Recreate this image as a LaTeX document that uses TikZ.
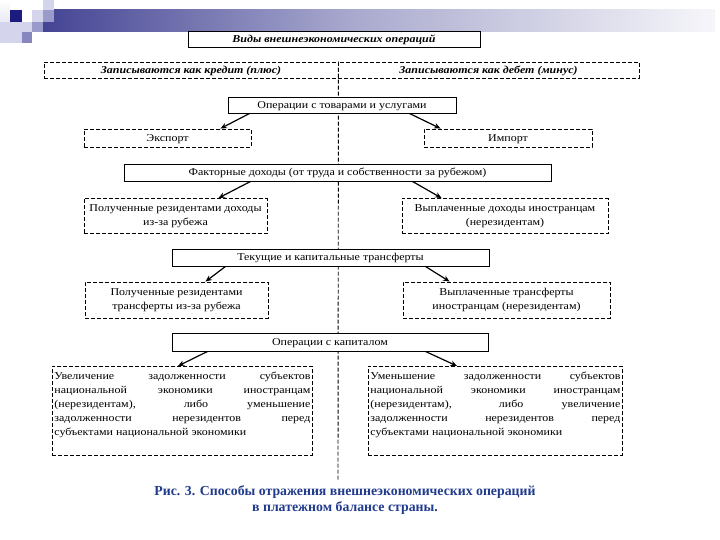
\documentclass[tikz,border=0pt]{standalone}
\usepackage{fontspec}
\setmainfont[FakeStretch=1.14]{Liberation Serif}
\newfontfamily\captionfont{Liberation Serif}
\usetikzlibrary{arrows.meta}
\definecolor{slideNavy}{HTML}{1C1C7E}
\definecolor{slideLilac}{HTML}{9A9ACB}
\definecolor{slidePale}{HTML}{D4D4EC}
\definecolor{captionBlue}{HTML}{203A8C}
\pgfdeclarehorizontalshading{headerbar}{100bp}{color(0bp)=(slideNavy); color(20bp)=(slideNavy!92!white); color(48bp)=(slideNavy!38!white); color(78bp)=(white); color(100bp)=(white)}
\tikzset{
  solidbox/.style={draw, fill=white, line width=0.9pt, inner sep=0pt, text height=7pt, text depth=0.5pt, font=\fontsize{10.5}{13}\selectfont},
  dashbox/.style={draw, dash pattern=on 4pt off 2pt, line width=0.9pt, inner sep=0pt, align=center, font=\fontsize{10.5}{14.5}\selectfont},
  headbox/.style={solidbox, font=\fontsize{10.5}{13}\selectfont\bfseries\itshape},
  halfbox/.style={dashbox, text height=7pt, text depth=0.5pt, minimum height=16pt, font=\fontsize{10.5}{13}\selectfont\bfseries\itshape},
  onebox/.style={dashbox, text height=7pt, text depth=0.5pt, minimum height=18pt},
  bigbox/.style={dashbox, anchor=north west, inner sep=2pt, align=justify, font=\fontsize{10.5}{14}\selectfont},
  link/.style={-{Stealth[length=6.5pt,width=5.5pt]}, line width=1.2pt},
  axisline/.style={dash pattern=on 4pt off 2pt, line width=0.9pt},
}

\begin{document}
\begin{tikzpicture}[x=1pt, y=-1pt]
  \useasboundingbox (0,0) rectangle (720,540);
  \fill[top color=white, bottom color=slidePale] (0,0) rectangle (10,43);
  \fill[slidePale] (0,22) rectangle (22,43);
  \shade[shading=headerbar] (43,10) rectangle (715,32);
  \fill[slideNavy] (10,10) rectangle (22,22);
  \fill[slidePale] (32,10) rectangle (43,22);
  \fill[slidePale] (43,0) rectangle (54,10);
  \fill[slideLilac] (43,10) rectangle (54,22);
  \fill[slidePale] (22,22) rectangle (32,32);
  \fill[slideLilac] (32,22) rectangle (43,32);
  \fill[slideLilac!85!slideNavy] (22,32) rectangle (32,43);

  \coordinate (axisend) at (338,480);
  \node[halfbox, minimum width=294pt] (credit) at (191,70) {Записываются как кредит (плюс)};
  \node[halfbox, minimum width=301pt] (debit) at (488.5,70) {Записываются как дебет (минус)};
  \draw[axisline] (credit.north east) -- (axisend);

  \node[headbox, minimum width=292pt, minimum height=16pt] (title) at (334,39) {Виды внешнеэкономических операций};
  \node[solidbox, minimum width=228pt, minimum height=16pt] (goods) at (342,105) {Операции с товарами и услугами};
  \node[onebox, minimum width=167pt] (export) at (167.5,138) {Экспорт};
  \node[onebox, minimum width=168pt] (import) at (508,138) {Импорт};
  \node[solidbox, minimum width=427pt, minimum height=17pt] (factor) at (337.5,172.5) {Факторные доходы (от труда и собственности за рубежом)};
  \node[dashbox, minimum width=183pt, minimum height=35pt] (incres) at (175.5,216) {Полученные резидентами доходы\\из-за рубежа};
  \node[dashbox, minimum width=206pt, minimum height=35pt] (incnon) at (505,216) {Выплаченные доходы иностранцам\\(нерезидентам)};
  \node[solidbox, minimum width=317pt, minimum height=17pt] (transf) at (330.5,257.5) {Текущие и капитальные трансферты};
  \node[dashbox, minimum width=183pt, minimum height=36pt] (trres) at (176.5,300) {Полученные резидентами\\трансферты из-за рубежа};
  \node[dashbox, minimum width=207pt, minimum height=36pt] (trnon) at (506.5,300) {Выплаченные трансферты\\иностранцам (нерезидентам)};
  \node[solidbox, minimum width=316pt, minimum height=18pt] (capital) at (330,342) {Операции с капиталом};
  \node[bigbox, text width=256pt, minimum height=89pt] (debtup) at (52,366) {Увеличение задолженности субъектов\linebreak национальной экономики иностранцам\linebreak (нерезидентам), либо уменьшение\linebreak задолженности нерезидентов перед\linebreak субъектами национальной экономики\\ \mbox{}};
  \node[bigbox, text width=250pt, minimum height=89pt] (debtdown) at (368,366) {Уменьшение задолженности субъектов\linebreak национальной экономики иностранцам\linebreak (нерезидентам), либо увеличение\linebreak задолженности нерезидентов перед\linebreak субъектами национальной экономики\\ \mbox{}};

  \draw[link] ([xshift=22pt]goods.south west) -- ([xshift=-31pt]export.north east);
  \draw[link] ([xshift=-47pt]goods.south east) -- ([xshift=17pt]import.north west);
  \draw[link] ([xshift=127pt]factor.south west) -- ([xshift=-49pt]incres.north east);
  \draw[link] ([xshift=-139pt]factor.south east) -- ([xshift=40pt]incnon.north west);
  \draw[link] ([xshift=54pt]transf.south west) -- ([xshift=-63pt]trres.north east);
  \draw[link] ([xshift=-64pt]transf.south east) -- ([xshift=47pt]trnon.north west);
  \draw[link] ([xshift=36pt]capital.south west) -- ([xshift=126pt]debtup.north west);
  \draw[link] ([xshift=-63pt]capital.south east) -- ([xshift=89pt]debtdown.north west);

  \node[captionBlue, align=center, font=\captionfont\fontsize{13.8}{15.5}\selectfont\bfseries] (caption) at (345,500) {Рис. 3. Способы отражения внешнеэкономических операций\\в платежном балансе страны.};
\end{tikzpicture}
\end{document}
